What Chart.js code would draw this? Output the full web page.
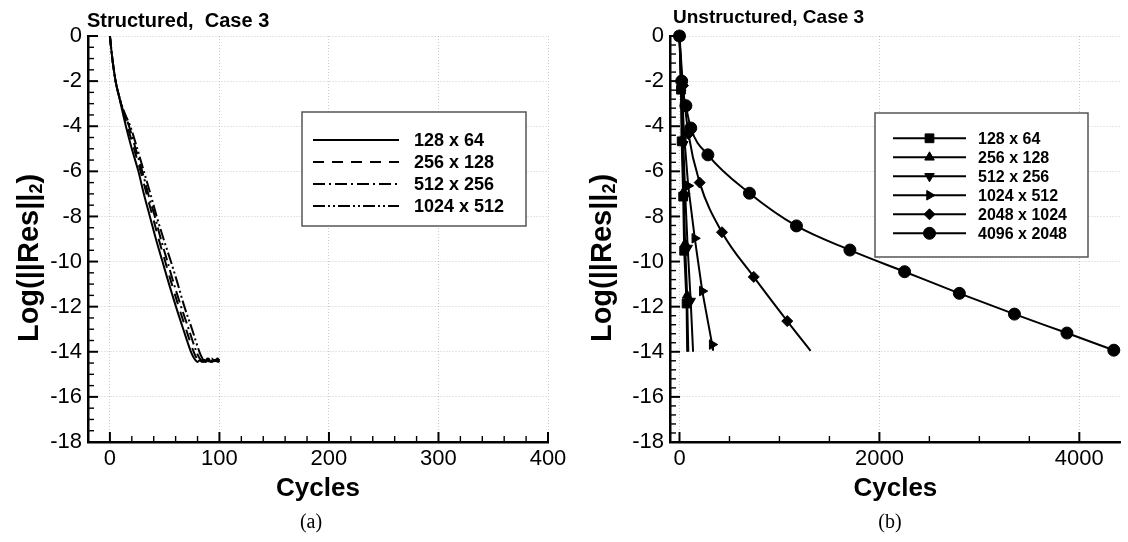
<!DOCTYPE html>
<html>
<head>
<meta charset="utf-8">
<script src="https://cdn.jsdelivr.net/npm/chart.js@4.4.1/dist/chart.umd.min.js"></script>
<style>
body { margin: 0; background: #fff; }
#wrap { position: relative; width: 1128px; height: 542px; overflow: hidden; background: #fff; }
#cA { position: absolute; left: 0; top: 0; }
#cB { position: absolute; left: 564px; top: 0; }
.cap { position: absolute; top: 509px; width: 60px; text-align: center; line-height: 24px;
       font-size: 20px; font-family: "Liberation Serif", "Times New Roman", serif; }
</style>
</head>
<body>
<div id="wrap">
  <canvas id="cA" width="580" height="542"></canvas>
  <canvas id="cB" width="564" height="542"></canvas>
  <div class="cap" style="left:281px">(a)</div>
  <div class="cap" style="left:860px">(b)</div>
</div>
<script>
// (a) structured grids - cycles / log residual
const xS128 = [0, 1.5, 3, 4.5, 6, 8, 11, 14.6, 20, 26, 31, 36.5, 42, 48, 54, 60.3, 67, 74, 77, 79, 80, 82, 84, 86, 88, 90, 92, 94, 96, 98, 100];
const yS128 = [0, -0.7, -1.3, -1.8, -2.2, -2.6, -3.25, -4, -5, -6, -7, -8, -9, -10, -11, -12, -13, -14, -14.3, -14.42, -14.45, -14.38, -14.45, -14.35, -14.42, -14.3, -14.45, -14.35, -14.4, -14.3, -14.38];
const xS256 = [0, 1.5, 3, 4.5, 6, 8, 11.5, 16, 22, 28, 33.5, 39, 44.5, 50.5, 56.5, 62.8, 69.5, 76.5, 79.5, 81.5, 83, 85, 87, 89, 91, 93, 95, 97, 99, 100];
const yS256 = [0, -0.7, -1.3, -1.8, -2.2, -2.6, -3.25, -4, -5, -6, -7, -8, -9, -10, -11, -12, -13, -14, -14.3, -14.4, -14.45, -14.35, -14.42, -14.3, -14.45, -14.38, -14.3, -14.42, -14.35, -14.4];
const xS512 = [0, 1.5, 3, 4.5, 6, 8, 12, 17.5, 23.5, 29.5, 35, 41, 46.5, 52.5, 58.5, 65, 72, 79, 82, 84, 85.5, 87.5, 89.5, 91.5, 93.5, 95.5, 97.5, 100];
const yS512 = [0, -0.7, -1.3, -1.8, -2.2, -2.6, -3.3, -4, -5, -6, -7, -8, -9, -10, -11, -12, -13, -14, -14.3, -14.4, -14.45, -14.35, -14.42, -14.32, -14.45, -14.36, -14.42, -14.38];
const xS1024 = [0, 1.5, 3, 4.5, 6, 8, 12.5, 18.6, 25, 31, 37, 42.7, 49, 55.7, 62, 68, 75, 81.7, 84.5, 86, 87.5, 89, 91, 93, 95, 97, 99, 100];
const yS1024 = [0, -0.7, -1.3, -1.8, -2.2, -2.6, -3.3, -4, -5, -6, -7, -8, -9, -10, -11, -12, -13, -14, -14.3, -14.4, -14.45, -14.35, -14.42, -14.3, -14.42, -14.35, -14.45, -14.4];

// (b) unstructured grids
const xU128 = [0, 15, 22, 37, 47, 71, 77];
const yU128 = [0, -2.38, -4.67, -7.12, -9.52, -11.86, -14.0];
const xU256 = [0, 17, 27, 42, 56, 76, 88];
const yU256 = [0, -2.3, -4.6, -6.9, -9.2, -11.5, -14.0];
const xU512 = [0, 20, 38, 58, 82, 112, 136];
const yU512 = [0, -2.4, -4.8, -7.1, -9.4, -11.75, -14.0];
const xU1024 = [0, 20, 45, 87, 153, 228, 327, 335];
const yU1024 = [0, -1.98, -4.31, -6.64, -8.97, -11.31, -13.68, -13.95];
const xU2048 = [0, 35, 90, 202, 425, 743, 1078, 1311];
const yU2048 = [0, -2.2, -4.35, -6.5, -8.7, -10.68, -12.64, -13.96];
const xU4096 = [0, 22, 64, 113, 284, 700, 1170, 1705, 2252, 2800, 3351, 3876, 4345];
const yU4096 = [0, -2.0, -3.09, -4.08, -5.27, -6.97, -8.42, -9.49, -10.45, -11.41, -12.33, -13.17, -13.93];

const xTicksA = [0, 100, 200, 300, 400];
const xTicksB = [0, 2000, 4000];
const yTicks = [0, -2, -4, -6, -8, -10, -12, -14, -16, -18];

const FONT = "'Liberation Sans', Arial, Helvetica, sans-serif";
const pts = (xs, ys) => xs.map((x, i) => ({ x: x, y: ys[i] }));

function tickMarks(ctx, scale, step, majorStep, horiz, a) {
  const start = Math.ceil(scale.min / step - 1e-9) * step;
  for (let v = start; v <= scale.max + 1e-9; v += step) {
    const r = v / majorStep;
    const major = Math.abs(r - Math.round(r)) < 1e-6;
    const len = major ? 10 : 6;
    const p = scale.getPixelForValue(v);
    ctx.lineWidth = major ? 2 : 1.4;
    ctx.beginPath();
    if (horiz) { ctx.moveTo(p, a.bottom); ctx.lineTo(p, a.bottom - len); }
    else { ctx.moveTo(a.left, p); ctx.lineTo(a.left + len, p); }
    ctx.stroke();
  }
}

function yTitle(ctx, x, y, size) {
  ctx.save();
  ctx.translate(x, y);
  ctx.rotate(-Math.PI / 2);
  ctx.fillStyle = '#000';
  ctx.textBaseline = 'middle';
  const big = 'bold ' + size + 'px ' + FONT;
  const small = 'bold ' + Math.round(size * 0.62) + 'px ' + FONT;
  const parts = [['Log(||Res||', big, 0], ['2', small, size * 0.25], [')', big, 0]];
  let w = 0;
  parts.forEach(p => { ctx.font = p[1]; w += ctx.measureText(p[0]).width; });
  let cx = -w / 2;
  parts.forEach(p => { ctx.font = p[1]; ctx.fillText(p[0], cx, p[2]); cx += ctx.measureText(p[0]).width; });
  ctx.restore();
}

function drawLegend(chart, L) {
  const ctx = chart.ctx;
  ctx.save();
  ctx.fillStyle = '#fff';
  ctx.fillRect(L.x, L.y, L.w, L.h);
  ctx.strokeStyle = '#555';
  ctx.lineWidth = 1.5;
  ctx.strokeRect(L.x, L.y, L.w, L.h);
  ctx.font = 'bold ' + L.size + 'px ' + FONT;
  ctx.textBaseline = 'middle';
  chart.data.datasets.forEach((ds, i) => {
    const y = L.y + L.first + i * L.gap;
    ctx.strokeStyle = '#000';
    ctx.lineWidth = 2;
    ctx.setLineDash(ds.borderDash || []);
    ctx.beginPath();
    ctx.moveTo(L.x + L.l0, y);
    ctx.lineTo(L.x + L.l1, y);
    ctx.stroke();
    ctx.setLineDash([]);
    if (ds.markR) {
      ctx.fillStyle = '#000';
      ctx.lineWidth = 1;
      Chart.helpers.drawPoint(ctx, { pointStyle: ds.pointStyle, rotation: ds.pointRotation || 0, radius: ds.markR, borderWidth: 1 }, L.x + (L.l0 + L.l1) / 2, y);
    }
    ctx.fillStyle = '#000';
    ctx.fillText(ds.label, L.x + L.tx, y + 1);
  });
  ctx.restore();
}

// inward ticks, panel title, y title, legend box
const decor = {
  id: 'decor',
  afterDatasetsDraw(chart, args, o) {
    const ctx = chart.ctx, a = chart.chartArea;
    ctx.save();
    ctx.strokeStyle = '#000';
    tickMarks(ctx, chart.scales.x, o.xMinor, o.xMajor, true, a);
    tickMarks(ctx, chart.scales.y, o.yMinor, 2, false, a);
    ctx.fillStyle = '#000';
    ctx.font = 'bold ' + o.titleSize + 'px ' + FONT;
    ctx.textBaseline = 'alphabetic';
    ctx.fillText(o.title, o.titleX, o.titleY);
    ctx.restore();
    yTitle(ctx, o.yTitleX, 258, 29);
    drawLegend(chart, o.legend);
  }
};

function makeChart(id, datasets, xMin, xMax, xTicks, yWidth, padRight, deco) {
  return new Chart(document.getElementById(id), {
    type: 'line',
    data: { datasets: datasets },
    plugins: [decor],
    options: {
      responsive: false,
      animation: false,
      layout: { padding: { left: 0, top: 36, right: padRight, bottom: 0 } },
      plugins: { legend: { display: false }, tooltip: { enabled: false }, decor: deco },
      scales: {
        x: {
          type: 'linear', min: xMin, max: xMax,
          afterBuildTicks: s => { s.ticks = xTicks.map(v => ({ value: v })); },
          afterFit: s => { s.height = 100; s.paddingLeft = 0; s.paddingRight = 0; },
          grid: { color: 'rgba(0,0,0,0.2)', lineWidth: 1, drawTicks: false },
          border: { color: '#000', width: 2.5, dash: [1, 2] },
          ticks: { color: '#000', font: { family: FONT, size: 22 }, padding: 4, maxRotation: 0, autoSkip: false, callback: v => String(v) },
          title: { display: true, text: 'Cycles', color: '#000', font: { family: FONT, size: 26, weight: 'bold' }, padding: { top: 0, bottom: 38 } }
        },
        y: {
          type: 'linear', min: -18, max: 0,
          afterBuildTicks: s => { s.ticks = yTicks.map(v => ({ value: v })); },
          afterFit: s => { s.width = yWidth; s.paddingTop = 0; s.paddingBottom = 0; },
          grid: { color: 'rgba(0,0,0,0.2)', lineWidth: 1, drawTicks: false },
          border: { color: '#000', width: 2.5, dash: [1, 2] },
          ticks: { color: '#000', font: { family: FONT, size: 22 }, padding: 6, autoSkip: false, callback: v => String(v) }
        }
      }
    }
  });
}

const lineA = d => Object.assign({ borderColor: '#000', borderWidth: 2, pointRadius: 0, fill: false, cubicInterpolationMode: 'monotone' }, d);
const dataA = [
  lineA({ label: '128 x 64', data: pts(xS128, yS128), borderDash: [] }),
  lineA({ label: '256 x 128', data: pts(xS256, yS256), borderDash: [11, 8] }),
  lineA({ label: '512 x 256', data: pts(xS512, yS512), borderDash: [12, 4, 2, 4] }),
  lineA({ label: '1024 x 512', data: pts(xS1024, yS1024), borderDash: [12, 3, 2, 3, 2, 3] })
];

const lineB = d => Object.assign({
  borderColor: '#000', borderWidth: 2, fill: false, tension: 0, order: 1, clip: false,
  pointBackgroundColor: '#000', pointBorderColor: '#000', pointBorderWidth: 1,
  pointRadius: c => (c.dataIndex === c.dataset.data.length - 1 && !c.dataset.endMark) ? 0 : c.dataset.markR
}, d);
const dataB = [
  lineB({ label: '128 x 64', data: pts(xU128, yU128), pointStyle: 'rect', markR: 6.2 }),
  lineB({ label: '256 x 128', data: pts(xU256, yU256), pointStyle: 'triangle', markR: 5.5 }),
  lineB({ label: '512 x 256', data: pts(xU512, yU512), pointStyle: 'triangle', pointRotation: 180, markR: 5.5 }),
  lineB({ label: '1024 x 512', data: pts(xU1024, yU1024), pointStyle: 'triangle', pointRotation: 90, markR: 5.5 }),
  lineB({ label: '2048 x 1024', data: pts(xU2048, yU2048), pointStyle: 'rectRot', markR: 5.5, cubicInterpolationMode: 'monotone' }),
  lineB({ label: '4096 x 2048', data: pts(xU4096, yU4096), pointStyle: 'circle', markR: 6, endMark: true, cubicInterpolationMode: 'monotone', order: 0 })
];

makeChart('cA', dataA, -20, 400, xTicksA, 88, 32, {
  title: 'Structured,  Case 3', titleSize: 20, titleX: 87, titleY: 26.5, yTitleX: 30,
  xMinor: 20, xMajor: 100, yMinor: 0.5,
  legend: { x: 302, y: 112, w: 224, h: 114, first: 28, gap: 22, l0: 11, l1: 97, tx: 112, size: 18 }
});
makeChart('cB', dataB, -95, 4415, xTicksB, 106, 0, {
  title: 'Unstructured, Case 3', titleSize: 19, titleX: 109, titleY: 23, yTitleX: 39,
  xMinor: 500, xMajor: 2000, yMinor: 0.4,
  legend: { x: 311, y: 113, w: 213, h: 144, first: 25.3, gap: 19, l0: 18, l1: 91, tx: 103, size: 16 }
});
</script>
</body>
</html>
